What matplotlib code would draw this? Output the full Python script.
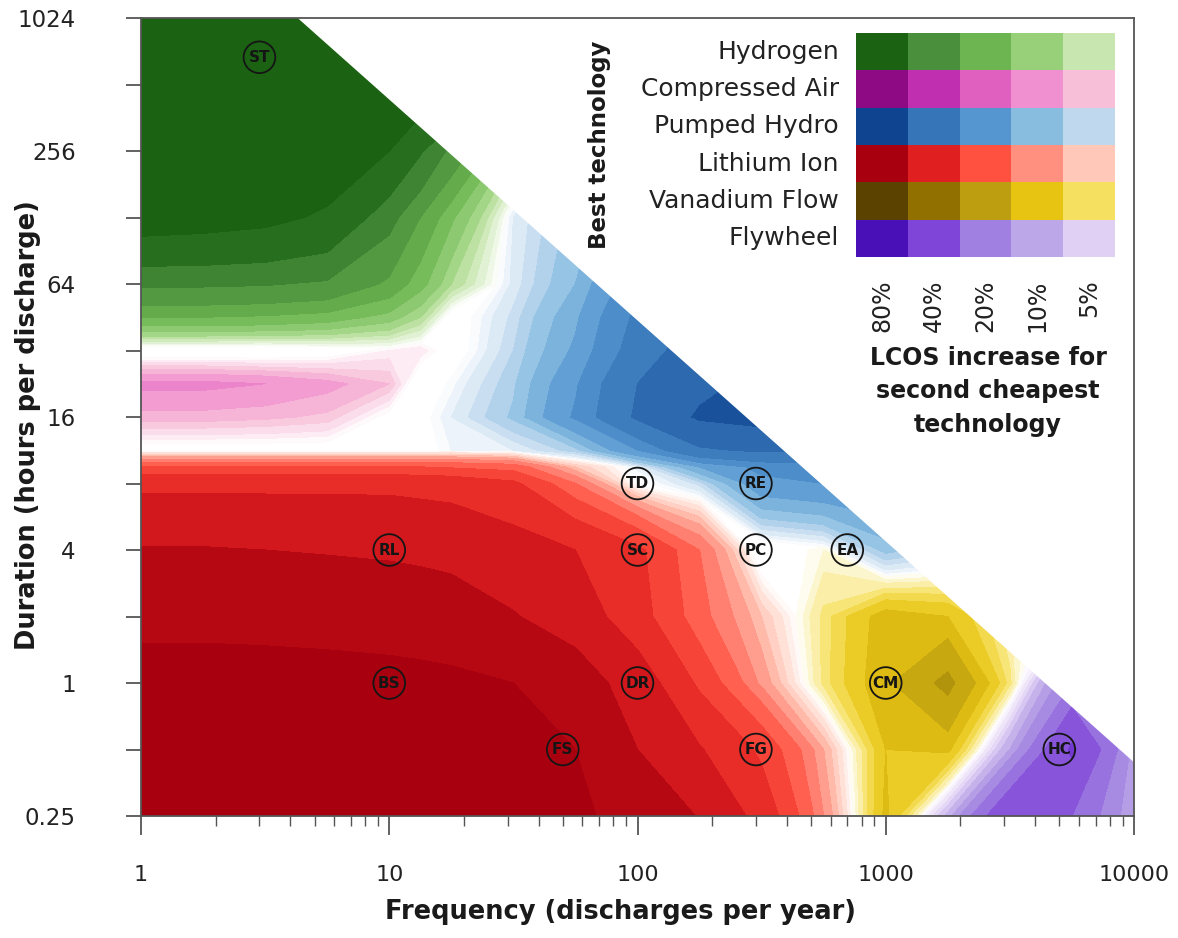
import numpy as np
import matplotlib
matplotlib.use("Agg")
import matplotlib.pyplot as plt
from matplotlib.patches import Rectangle
from matplotlib.colors import to_rgb
from matplotlib.ticker import FixedLocator, NullFormatter, LogLocator

# ---------------- data ----------------
TECH_NAMES = ["Hydrogen", "Compressed Air", "Pumped Hydro", "Lithium Ion", "Vanadium Flow", "Flywheel"]
TECH_CODES = ["H", "C", "P", "L", "V", "F"]
LEGEND_PCTS = ["80%", "40%", "20%", "10%", "5%"]
HYDROGEN_COLORS = ["#1b6313", "#4a8f3c", "#6cb550", "#98d07a", "#c8e6b0"]
COMPRESSED_AIR_COLORS = ["#8e0a84", "#c02fb0", "#e060c0", "#f090d0", "#f8c0d8"]
PUMPED_HYDRO_COLORS = ["#0f4590", "#3575b8", "#5595d0", "#88bde0", "#c0d8ee"]
LITHIUM_COLORS = ["#a8000f", "#e02020", "#ff5040", "#ff9080", "#ffc8b8"]
VANADIUM_COLORS = ["#5c4200", "#917000", "#bd9e10", "#e8c412", "#f5e060"]
FLYWHEEL_COLORS = ["#4a10b8", "#7f45d8", "#a080e0", "#bca8e8", "#e0d0f4"]
TECH_COLORS = [HYDROGEN_COLORS, COMPRESSED_AIR_COLORS, PUMPED_HYDRO_COLORS,
               LITHIUM_COLORS, VANADIUM_COLORS, FLYWHEEL_COLORS]

# contour levels of LCOS increase (%) for the second-cheapest technology
LEVELS = [0, 1, 2, 3.5, 5, 7, 10, 14, 20, 28, 40, 56, 80, 1000]

# sample grid: log10 frequency columns, log2 duration rows
LOG10_FREQ_NODES = [0, 0.25, 0.5, 0.75, 1, 1.125, 1.25, 1.5, 1.75, 2, 2.25, 2.5, 2.75, 3, 3.25, 3.5, 3.75, 4]
LOG2_DUR_NODES = [10, 9, 8, 7, 6, 5.5, 5, 4.5, 4, 3.5, 3.25, 3, 2, 1, 0, -1, -2]

# best technology at each node ('.' = no clear winner)
BEST_TECH = [
    "HHHHHHHHHHHHHHHHHH",
    "HHHHHHHHPPPPPPPPPP",
    "HHHHHHHHPPPPPPPPPP",
    "HHHHHHHPPPPPPPPPPP",
    "HHHHHHHPPPPPPPPPPP",
    "HHHHHH.PPPPPPPPPPP",
    "....CC.PPPPPPPPPPP",
    "CCCCC.PPPPPPPPPPPP",
    "CCCC..PPPPPPPPPPPP",
    "......PPPPPPPPPPPP",
    "LLLLLLLLLPPPPPPPPP",
    "LLLLLLLLL.PPPPPPPP",
    "LLLLLLLLLLL.VPP...",
    "LLLLLLLLLLLLVVVVFF",
    "LLLLLLLLLLLLVVVVFF",
    "LLLLLLLLLLLLLVVFFF",
    "LLLLLLLLLLLLLVFFFF",
]
# LCOS increase (%) of the second-cheapest technology at each node
LCOS_GAP = [
    [150, 150, 150, 140, 130, 120, 110, 90, 70, 60, 50, 40, 40, 40, 40, 40, 40, 40],
    [150, 150, 150, 140, 120, 100, 90, 70, 20, 30, 40, 50, 50, 50, 50, 50, 50, 50],
    [150, 140, 120, 100, 80, 58, 36, 8, 5, 20, 35, 50, 50, 50, 50, 50, 50, 50],
    [95, 92, 87, 76, 45, 28, 15, 2, 8, 15, 25, 40, 50, 50, 50, 50, 50, 50],
    [42, 42, 41, 38, 26, 16, 7, 2.5, 10, 25, 40, 50, 55, 55, 55, 55, 55, 55],
    [20, 20, 19, 17, 12, 7, 2, 4, 13, 30, 45, 55, 60, 60, 60, 60, 60, 60],
    [3, 3, 3, 2, 1, 2, 2, 5, 15, 33, 48, 58, 62, 62, 62, 62, 62, 62],
    [11, 11, 10, 8, 5, 3, 0.5, 6.5, 19, 40, 52, 60, 62, 62, 62, 62, 62, 62],
    [6, 6, 5.5, 4.5, 1, 1, 2, 7.5, 21, 42, 58, 62, 62, 62, 62, 62, 62, 62],
    [1.5, 1.5, 1.5, 1.5, 1.5, 1.5, 1, 2, 6, 20, 38, 42, 40, 40, 40, 40, 40, 40],
    [20, 20, 20, 20, 20, 20, 19, 17, 5, 1.5, 14, 22, 25, 25, 25, 25, 25, 25],
    [37, 37, 37, 37, 37, 36, 35, 30, 14, 1, 4, 18, 20, 20, 20, 20, 20, 20],
    [57, 57, 56, 55, 54, 53, 52, 46, 40, 30, 14, 3, 1, 8, 5, 15, 15, 15],
    [70, 70, 69, 68, 66, 65, 63, 57, 48, 32, 16, 5, 4, 12, 10, 2, 2, 2],
    [95, 95, 94, 92, 90, 88, 86, 80, 65, 48, 26, 9, 4, 13, 22, 4, 20, 8],
    [98, 98, 97, 96, 95, 94, 92, 88, 80, 56, 41, 26, 7, 10, 11, 10, 42, 12],
    [99, 99, 99, 98, 98, 97, 96, 92, 85, 70, 55, 35, 10, 11, 8, 40, 28, 10],
]

# applications
POINT_LABELS = ["ST", "TD", "RE", "RL", "SC", "PC", "EA", "BS", "DR", "CM", "FS", "FG", "HC"]
POINT_FREQ = [3, 100, 300, 10, 100, 300, 700, 10, 100, 1000, 50, 300, 5000]
POINT_DUR = [680, 8, 8, 4, 4, 4, 4, 1, 1, 1, 0.5, 0.5, 0.5]

# a store can at most spend half of the year discharging
HOURS_PER_YEAR = 8760
MAX_DISCHARGE_HOURS = HOURS_PER_YEAR / 2

X_TICKS = [1, 10, 100, 1000, 10000]
X_TICK_LABELS = ["1", "10", "100", "1000", "10000"]
Y_TICKS = [0.25, 1, 4, 16, 64, 256, 1024]
Y_TICK_LABELS = ["0.25", "1", "4", "16", "64", "256", "1024"]
Y_MINOR_TICKS = [0.5, 2, 8, 32, 128, 512]

# ---------------- style helpers ----------------
def band_colors(legend_cols):
    cols = [np.array(to_rgb(c)) for c in legend_cols][::-1]  # 5% ... 80%
    white = np.ones(3)
    out = []
    for a, b in zip(LEVELS[:-1], LEVELS[1:]):
        if b <= 5:
            frac = ((a + b) / 2) / 5.0
            out.append(tuple(white + (cols[0] - white) * frac))
            continue
        if a >= 80:
            t = 1.0
        else:
            mid = np.sqrt(a * b)
            t = np.clip(np.log2(mid / 5.0) / 4.0, 0, 1)
        p = t * 4
        i0 = int(np.floor(p))
        i1 = min(i0 + 1, 4)
        w = p - i0
        out.append(tuple(cols[i0] * (1 - w) + cols[i1] * w))
    return out


plt.rcParams["font.family"] = ["DejaVu Sans"]

W, H = 1178, 938
fig = plt.figure(figsize=(W / 100, H / 100), dpi=100)
ax = fig.add_axes([141 / W, 1 - 816 / H, (1134 - 141) / W, (816 - 18) / H])

ax.set_xscale("log")
ax.set_yscale("log", base=2)
ax.set_xlim(1, 10000)
ax.set_ylim(0.25, 1024)

# grid in the axes' own scaled (log) space; contour there, then map through the axes' scale pipeline
U, V = np.meshgrid(np.array(LOG10_FREQ_NODES, float), np.array(LOG2_DUR_NODES, float))
scaled_to_display = ax.transLimits + ax.transAxes
best = np.array([list(r) for r in BEST_TECH])
gap = np.array(LCOS_GAP, dtype=float)

for code, cols in zip(TECH_CODES, TECH_COLORS):
    Z = np.where(best == code, gap, -gap)
    ax.contourf(U, V, Z, levels=LEVELS, colors=band_colors(cols), zorder=1,
                transform=scaled_to_display)

ax.set_xlim(1, 10000)
ax.set_ylim(0.25, 1024)

# infeasible region (frequency x duration above the limit)
fl = np.logspace(0, 4, 800)
ax.fill_between(fl, MAX_DISCHARGE_HOURS / fl, 4000, color="white", lw=0, zorder=2)

ax.set_xticks(X_TICKS)
ax.set_xticklabels(X_TICK_LABELS)
ax.xaxis.set_minor_locator(LogLocator(base=10, subs=np.arange(2, 10)))
ax.xaxis.set_minor_formatter(NullFormatter())
ax.set_yticks(Y_TICKS)
ax.set_yticklabels(Y_TICK_LABELS)
ax.yaxis.set_minor_locator(FixedLocator(Y_MINOR_TICKS))
ax.yaxis.set_minor_formatter(NullFormatter())

ax.tick_params(axis="x", which="major", length=14, width=1.3, pad=21, labelsize=16,
               color="#555555", labelcolor="#222222")
ax.tick_params(axis="x", which="minor", length=7, width=1.0, color="#555555")
ax.tick_params(axis="y", which="both", length=11, width=1.3, pad=36, labelsize=16.5,
               color="#555555", labelcolor="#222222")
for s in ax.spines.values():
    s.set_color("#555555")
    s.set_linewidth(1.3)
    s.set_zorder(6)

ax.set_xlabel("Frequency (discharges per year)", fontsize=18.5, fontweight="bold", color="#1a1a1a")
ax.set_ylabel("Duration (hours per discharge)", fontsize=18.5, fontweight="bold", color="#1a1a1a")
ax.xaxis.set_label_coords(0.483, -0.12)
ax.xaxis.label.set_va("center")
ax.yaxis.set_label_coords(-0.114, 0.49)
ax.yaxis.label.set_va("center")

# application markers
ax.scatter(POINT_FREQ, POINT_DUR, s=520, facecolors="none", edgecolors="#151515",
           linewidths=1.3, zorder=5)
for lab, f, d in zip(POINT_LABELS, POINT_FREQ, POINT_DUR):
    ax.text(f, d, lab, ha="center", va="center", fontsize=11, fontweight="bold",
            color="#151515", zorder=6)

# legend grid
lax = fig.add_axes([856 / W, 1 - 257 / H, (1115 - 856) / W, (257 - 33) / H])
lax.set_xlim(0, 5)
lax.set_ylim(6, 0)
lax.axis("off")
for i, (name, cols) in enumerate(zip(TECH_NAMES, TECH_COLORS)):
    for j, c in enumerate(cols):
        lax.add_patch(Rectangle((j, i), 1, 1, facecolor=c, edgecolor="none"))
    lax.text(-0.33, i + 0.5, name, ha="right", va="center", fontsize=18, color="#222222")
for j, p in enumerate(LEGEND_PCTS):
    lax.text(j + 0.5, 6.6, p, ha="center", va="top", rotation=90, fontsize=17, color="#222222")
lax.text(-4.95, 3.0, "Best technology", ha="center", va="center", rotation=90,
         fontsize=16.5, fontweight="bold", color="#1a1a1a")
lax.text(2.55, 9.6, "LCOS increase for\nsecond cheapest\ntechnology", ha="center", va="center",
         fontsize=17, fontweight="bold", color="#1a1a1a", linespacing=1.5)

fig.savefig("out.png", dpi=100)
